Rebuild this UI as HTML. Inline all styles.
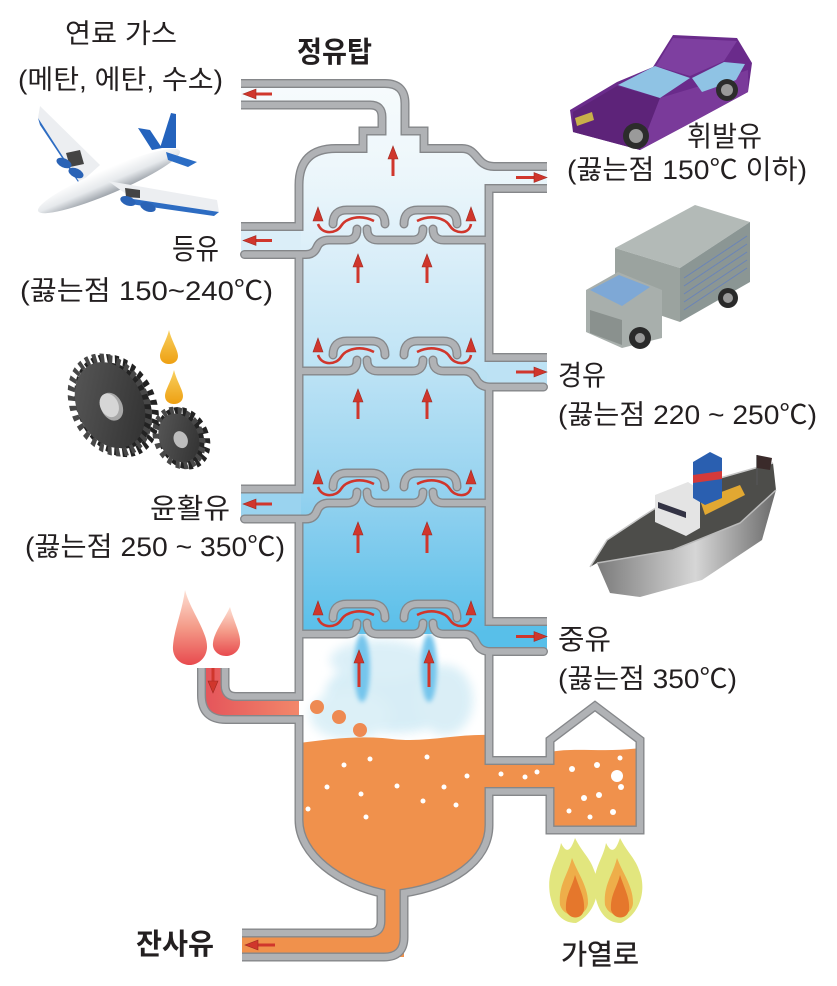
<!DOCTYPE html>
<html><head><meta charset="utf-8"><style>
html,body{margin:0;padding:0;background:#fff;}
svg{display:block;}
text{font-family:"Liberation Sans","Noto Sans CJK KR",sans-serif;fill:#231f20;}
</style></head><body>
<svg width="837" height="986" viewBox="0 0 837 986" xmlns="http://www.w3.org/2000/svg">
<defs>
 <linearGradient id="colg" gradientUnits="userSpaceOnUse" x1="0" y1="80" x2="0" y2="640">
  <stop offset="0" stop-color="#f7fbfd"/><stop offset="0.15" stop-color="#eef7fb"/>
  <stop offset="0.3" stop-color="#dceff9"/><stop offset="0.5" stop-color="#c0e4f5"/>
  <stop offset="0.75" stop-color="#92d1ef"/><stop offset="1" stop-color="#56bee9"/>
 </linearGradient>
 <linearGradient id="feedg" x1="0" y1="0" x2="1" y2="0">
  <stop offset="0" stop-color="#e4535a"/><stop offset="1" stop-color="#f2876a"/>
 </linearGradient>
 <linearGradient id="dropg" x1="0" y1="0" x2="0" y2="1">
  <stop offset="0" stop-color="#fde0d4"/><stop offset="0.5" stop-color="#f49a88"/><stop offset="1" stop-color="#e84a4e"/>
 </linearGradient>
 <linearGradient id="oilg" x1="0" y1="0" x2="0" y2="1">
  <stop offset="0" stop-color="#f8d060"/><stop offset="1" stop-color="#eea012"/>
 </linearGradient>
 <linearGradient id="fus" x1="0" y1="0" x2="0" y2="1">
  <stop offset="0" stop-color="#ffffff"/><stop offset="0.55" stop-color="#e6e9ec"/><stop offset="1" stop-color="#9ea4ab"/>
 </linearGradient>
 <linearGradient id="hullg" x1="0" y1="0" x2="1" y2="0">
  <stop offset="0" stop-color="#7b7b7b"/><stop offset="0.55" stop-color="#d6d6d6"/><stop offset="1" stop-color="#6a6a6a"/>
 </linearGradient>
 <linearGradient id="gearg" x1="0" y1="0" x2="1" y2="1">
  <stop offset="0" stop-color="#5a5a5a"/><stop offset="1" stop-color="#2e2e2e"/>
 </linearGradient>
 <filter id="blur4" x="-50%" y="-50%" width="200%" height="200%"><feGaussianBlur stdDeviation="5"/></filter>
 <filter id="blur2" x="-50%" y="-50%" width="200%" height="200%"><feGaussianBlur stdDeviation="2.5"/></filter>

 <g id="walls" fill="none">
  <path d="M241 83.5 L385 83.5 Q405 83.5 405 103.5 L405 131 L424 131 L424 148.5 L462 148.5 C478 148.5 476 166.5 494 166.5 L547 166.5"/>
  <path d="M241 105 L370 105 Q382 105 382 117 L382 131 L363 131 L363 148.5 L336 148.5 Q299 148.5 299 185 L299 226.5 L241 226.5"/>
  <path d="M547 188.5 L489 188.5 L489 357.5 L547 357.5"/>
  <path d="M299 254.5 L299 489 L241 489"/>
  <path d="M489 387 L489 621.5 L547 621.5"/>
  <path d="M299 519 L299 696.5 L236 696.5 Q225 696.5 225 685 L225 668"/>
  <path d="M489 651.5 L489 760.5 L550 760.5 L550 740 L595 706 L640 740 L640 830 L550 830 L550 791.5 L489 791.5 L489 825 C489 862 450 886 404 893 L404 937 Q404 957 384 957 L242 957"/>
  <path d="M201.5 668 L201.5 695 Q201.5 719.5 226 719.5 L299 719.5 L299 820 C299 855 340 884 381 893 L381 921 Q381 933 369 933 L242 933"/>
 </g>
 <g id="trays" fill="none" stroke-linecap="round">
  <path d="M244.5 254.5 L306 254.5 Q314 254.5 317 247 Q320 240 329 240 L347 240 Q357 240 357 229"/>
  <path d="M367 229 Q367 240 378 240 L412 240 Q423 240 423 229"/>
  <path d="M433 229 Q433 240 444 240 L486 240"/>
  <path d="M333 224 Q333 210 347 210 L371 210 Q385 210 385 224"/>
  <path d="M404 224 Q404 210 418 210 L443 210 Q457 210 457 224"/>

  <path d="M302 371 L347 371 Q357 371 357 360"/>
  <path d="M367 360 Q367 371 378 371 L412 371 Q423 371 423 360"/>
  <path d="M433 360 Q433 371 444 371 L464 371 Q472 371 476 379 Q480 387 490 387 L543.5 387"/>
  <path d="M333 355 Q333 341 347 341 L371 341 Q385 341 385 355"/>
  <path d="M404 355 Q404 341 418 341 L443 341 Q457 341 457 355"/>

  <path d="M244.5 519 L306 519 Q314 519 317 511 Q320 503 329 503 L347 503 Q357 503 357 492"/>
  <path d="M367 492 Q367 503 378 503 L412 503 Q423 503 423 492"/>
  <path d="M433 492 Q433 503 444 503 L486 503"/>
  <path d="M333 487 Q333 473 347 473 L371 473 Q385 473 385 487"/>
  <path d="M404 487 Q404 473 418 473 L443 473 Q457 473 457 487"/>

  <path d="M302 634 L347 634 Q357 634 357 623"/>
  <path d="M367 623 Q367 634 378 634 L412 634 Q423 634 423 623"/>
  <path d="M433 623 Q433 634 444 634 L464 634 Q472 634 476 642.5 Q480 651.5 490 651.5 L543.5 651.5"/>
  <path d="M333 618 Q333 604 347 604 L371 604 Q385 604 385 618"/>
  <path d="M404 618 Q404 604 418 604 L443 604 Q457 604 457 618"/>
 </g>
</defs>

<rect width="837" height="986" fill="#fff"/>

<!-- column interior -->
<path d="M299 634 L299 185 Q299 148.5 336 148.5 L363 148.5 L363 131 L382 131 L382 117 Q382 105 370 105 L241 105 L241 83.5 L385 83.5 Q405 83.5 405 103 L405 131 L424 131 L424 148.5 L462 148.5 C478 148.5 476 166.5 494 166.5 L547 166.5 L547 188.5 L489 188.5 L489 634 Z" fill="url(#colg)"/>
<rect x="241" y="226.5" width="60" height="28" fill="#dbeef8"/>
<rect x="487" y="357.5" width="60" height="29.5" fill="#bde2f4"/>
<rect x="241" y="489" width="60" height="30" fill="#9ad3ef"/>
<rect x="487" y="621.5" width="60" height="30" fill="#58bfe9"/>
<path d="M444 633 L464 634 Q472 634 476 642.5 Q480 651.5 490 651.5 L490 630 Z" fill="#58bfe9"/>

<!-- vapor -->
<g filter="url(#blur4)" opacity="0.9">
 <ellipse cx="395" cy="695" rx="70" ry="38" fill="#d3ecf6"/>
 <ellipse cx="350" cy="715" rx="40" ry="25" fill="#d9eff7"/>
 <ellipse cx="445" cy="700" rx="28" ry="35" fill="#d6edf6"/>
 <ellipse cx="380" cy="660" rx="50" ry="20" fill="#d8eef7"/>
</g>
<g filter="url(#blur2)">
 <ellipse cx="362" cy="668" rx="8" ry="34" fill="#74c5ec"/>
 <ellipse cx="429" cy="668" rx="8" ry="34" fill="#74c5ec"/>
</g>

<!-- orange liquid -->
<path d="M299 743 C330 739 360 735 392 739 C425 743 455 734 489 735 L489 764 L550 764 L550 752 C575 747 605 753 640 748 L640 830 L550 830 L550 788 L489 788 L489 825 C489 862 450 886 404 893 L404 957 L242 957 L242 933 L381 933 L381 893 C340 884 299 855 299 820 Z" fill="#f0914c"/>
<g fill="#fff">
 <circle cx="344" cy="765" r="2.5"/><circle cx="370" cy="759" r="2.5"/><circle cx="427" cy="757" r="2.5"/>
 <circle cx="327" cy="787" r="2.5"/><circle cx="361" cy="794" r="2.5"/><circle cx="397" cy="786" r="2.5"/>
 <circle cx="444" cy="787" r="2.5"/><circle cx="467" cy="776" r="2.5"/><circle cx="423" cy="801" r="2.5"/>
 <circle cx="456" cy="805" r="2.5"/><circle cx="308" cy="809" r="2.5"/><circle cx="366" cy="817" r="2.5"/>
 <circle cx="501" cy="774" r="2.5"/><circle cx="525" cy="777" r="2.5"/><circle cx="537" cy="772" r="2.5"/>
 <circle cx="572" cy="769" r="3"/><circle cx="597" cy="765" r="3"/><circle cx="620" cy="758" r="2.5"/>
 <circle cx="617" cy="776" r="6"/><circle cx="621" cy="787" r="3"/><circle cx="599" cy="795" r="3"/>
 <circle cx="584" cy="798" r="3"/><circle cx="569" cy="811" r="2.5"/><circle cx="590" cy="817" r="2.5"/><circle cx="613" cy="812" r="3"/>
</g>
<g fill="#ee8a52">
 <circle cx="317" cy="707" r="7"/><circle cx="339" cy="717" r="7"/><circle cx="360" cy="730" r="7"/>
</g>

<!-- feed pipe fill -->
<path d="M201.5 668 L225 668 L225 685 Q225 696.5 236 696.5 L299 696.5 L299 719.5 L226 719.5 Q201.5 719.5 201.5 695 Z" fill="url(#feedg)"/>

<!-- walls: outlines first, then light fill -->
<use href="#walls" stroke="#85878a" stroke-width="9"/>
<use href="#trays" stroke="#85878a" stroke-width="9"/>
<use href="#walls" stroke="#b0b2b5" stroke-width="6.3"/>
<use href="#trays" stroke="#b0b2b5" stroke-width="6.3"/>

<!-- red flow arrows on trays -->
<g fill="none" stroke="#d0362c" stroke-width="2.6">
 <path d="M374 221 C360 214 346 218 341 226 C336 234 322 235 318 224"/>
 <path d="M417 221 C431 214 445 218 450 226 C455 234 469 235 471 224"/>
 <path d="M374 352 C360 345 346 349 341 357 C336 365 322 366 318 355"/>
 <path d="M417 352 C431 345 445 349 450 357 C455 365 469 366 471 355"/>
 <path d="M374 484 C360 477 346 481 341 489 C336 497 322 498 318 487"/>
 <path d="M417 484 C431 477 445 481 450 489 C455 497 469 498 471 487"/>
 <path d="M374 615 C360 608 346 612 341 620 C336 628 322 629 318 618"/>
 <path d="M417 615 C431 608 445 612 450 620 C455 628 469 629 471 618"/>
</g>
<g fill="#d0362c" stroke="#9e2a22" stroke-width="0.6">
 <polygon points="318,207 313,221 323,221"/><polygon points="471,207 466,221 476,221"/>
 <polygon points="318,338 313,352 323,352"/><polygon points="471,338 466,352 476,352"/>
 <polygon points="318,470 313,484 323,484"/><polygon points="471,470 466,484 476,484"/>
 <polygon points="318,601 313,615 323,615"/><polygon points="471,601 466,615 476,615"/>
</g>

<!-- vertical arrows -->
<g stroke="#d0362c" stroke-width="3">
 <line x1="393" y1="157" x2="393" y2="176"/>
 <line x1="358" y1="265" x2="358" y2="283"/><line x1="427" y1="265" x2="427" y2="283"/>
 <line x1="358" y1="400" x2="358" y2="419"/><line x1="427" y1="400" x2="427" y2="419"/>
 <line x1="358" y1="533" x2="358" y2="553"/><line x1="427" y1="533" x2="427" y2="553"/>
 <line x1="359" y1="661" x2="359" y2="687"/><line x1="429" y1="661" x2="429" y2="687"/>
 <line x1="213" y1="668" x2="213" y2="683"/>
</g>
<g fill="#d0362c" stroke="#9e2a22" stroke-width="0.6">
 <polygon points="393,146 388,159 398,159"/>
 <polygon points="358,254 353,267 363,267"/><polygon points="427,254 422,267 432,267"/>
 <polygon points="358,389 353,402 363,402"/><polygon points="427,389 422,402 432,402"/>
 <polygon points="358,522 353,535 363,535"/><polygon points="427,522 422,535 432,535"/>
 <polygon points="359,650 354,663 364,663"/><polygon points="429,650 424,663 434,663"/>
 <polygon points="213,693 208,681 218,681"/>
</g>

<!-- horizontal arrows -->
<g stroke="#d0362c" stroke-width="3">
 <line x1="254" y1="94" x2="272" y2="94"/>
 <line x1="254" y1="240.5" x2="272" y2="240.5"/>
 <line x1="254" y1="504" x2="272" y2="504"/>
 <line x1="256" y1="945" x2="275" y2="945"/>
 <line x1="516" y1="177.5" x2="535" y2="177.5"/>
 <line x1="516" y1="372" x2="535" y2="372"/>
 <line x1="516" y1="636.5" x2="535" y2="636.5"/>
</g>
<g fill="#d0362c" stroke="#9e2a22" stroke-width="0.6">
 <polygon points="243,94 256,89 256,99"/>
 <polygon points="243,240.5 256,235.5 256,245.5"/>
 <polygon points="243,504 256,499 256,509"/>
 <polygon points="245,945 258,940 258,950"/>
 <polygon points="547,177.5 534,172.5 534,182.5"/>
 <polygon points="547,372 534,367 534,377"/>
 <polygon points="547,636.5 534,631.5 534,641.5"/>
</g>

<!-- airplane -->
<g>
 <polygon points="138,128 150,130 162,148 152,150" fill="#2463bd"/>
 <polygon points="100,165 40,106 38,118 80,183" fill="#eceef1"/>
 <polygon points="80,183 38,118 40,125 82,188" fill="#2d6cc2"/>
 <polygon points="66,153 80,150 84,164 70,167" fill="#444"/>
 <ellipse cx="64" cy="163" rx="8" ry="4.5" fill="#2a63b6" transform="rotate(25 64 163)"/>
 <ellipse cx="76" cy="173" rx="8" ry="4.5" fill="#2a63b6" transform="rotate(25 76 173)"/>
 <polygon points="160,148 171,113 176,114 176,148" fill="#2463bd"/>
 <ellipse cx="109" cy="181" rx="77" ry="12.5" fill="url(#fus)" transform="rotate(-23 109 181)"/>
 <polygon points="166,152 197,162 188,167 168,160" fill="#2b6dc5"/>
 <polygon points="108,181 217,200 219,212 133,199" fill="#eceef1"/>
 <polygon points="133,199 219,212 214,216 130,204" fill="#2d6cc2"/>
 <polygon points="125,188 140,190 140,198 126,197" fill="#444"/>
 <ellipse cx="128" cy="201" rx="8" ry="4.5" fill="#2a63b6" transform="rotate(20 128 201)"/>
 <ellipse cx="148" cy="207" rx="8" ry="4.5" fill="#2a63b6" transform="rotate(20 148 207)"/>
</g>

<!-- car -->
<g>
 <polygon points="570,110 617,82 653,67 673,35 737,38 752,63 748,92 700,118 640,150 573,132" fill="#6a2b8b"/>
 <polygon points="573,112 617,86 660,98 640,150 573,132" fill="#5d2379"/>
 <polygon points="660,98 700,86 748,70 748,92 700,118 640,150" fill="#7a3a9a"/>
 <polygon points="618,85 655,66 690,78 660,98" fill="#8fc3e4"/>
 <polygon points="692,78 724,62 745,64 736,80 702,92" fill="#8fc3e4"/>
 <polygon points="673,38 737,41 724,61 690,76 656,66" fill="#7e3fa0"/>
 <circle cx="636" cy="136" r="13" fill="#2c2c2c"/><circle cx="636" cy="136" r="7" fill="#9a9a9a"/>
 <circle cx="727" cy="90" r="11" fill="#2c2c2c"/><circle cx="727" cy="90" r="6" fill="#9a9a9a"/>
 <polygon points="575,118 592,112 594,120 577,126" fill="#c8b04a"/>
</g>

<!-- truck -->
<g>
 <polygon points="615,248 695,205 750,222 680,268" fill="#b3bab7"/>
 <polygon points="615,248 680,268 680,322 615,300" fill="#9ba39f"/>
 <polygon points="680,268 750,222 750,282 680,322" fill="#8b9694"/>
 <g stroke="#6a84b8" stroke-width="1">
  <line x1="684" y1="278" x2="747" y2="236"/><line x1="684" y1="286" x2="747" y2="244"/>
  <line x1="684" y1="294" x2="747" y2="252"/><line x1="684" y1="302" x2="747" y2="260"/>
  <line x1="684" y1="310" x2="747" y2="268"/>
 </g>
 <polygon points="586,290 618,272 662,290 662,338 622,348 586,332" fill="#a8afac"/>
 <polygon points="590,290 619,275 650,287 622,306" fill="#7ea8d6"/>
 <polygon points="590,310 622,320 622,345 590,333" fill="#8a918e"/>
 <circle cx="640" cy="338" r="11" fill="#2a2a2a"/><circle cx="640" cy="338" r="5" fill="#999"/>
 <circle cx="728" cy="298" r="10" fill="#2a2a2a"/><circle cx="728" cy="298" r="5" fill="#999"/>
</g>

<!-- oil drops -->
<path d="M169 330 C172 342 178 350 178 356 C178 361 174 364 169 364 C164 364 160 361 160 356 C160 350 166 342 169 330 Z" fill="url(#oilg)"/>
<path d="M174 370 C177 382 183 390 183 396 C183 401 179 404 174 404 C169 404 165 401 165 396 C165 390 171 382 174 370 Z" fill="url(#oilg)"/>

<!-- gears (perspective) -->
<g transform="translate(110 405) rotate(-25) scale(0.82 1.12)">
 <circle cx="7" cy="3" r="40" fill="#222"/>
 <circle cx="7" cy="3" r="44" fill="none" stroke="#222" stroke-width="8" stroke-dasharray="4.6 4.6"/>
 <circle cx="0" cy="0" r="40" fill="url(#gearg)"/>
 <circle cx="0" cy="0" r="44" fill="none" stroke="#474747" stroke-width="8" stroke-dasharray="4.6 4.6"/>
 <circle cx="1" cy="2" r="13" fill="#a8a8a8"/>
 <circle cx="-1" cy="0" r="11" fill="#d6d6d6"/>
</g>
<g transform="translate(179 438) rotate(-25) scale(0.85 1.1)">
 <circle cx="5" cy="2" r="23" fill="#222"/>
 <circle cx="5" cy="2" r="26" fill="none" stroke="#222" stroke-width="7" stroke-dasharray="4.5 4.5"/>
 <circle cx="0" cy="0" r="23" fill="url(#gearg)"/>
 <circle cx="0" cy="0" r="26" fill="none" stroke="#484848" stroke-width="7" stroke-dasharray="4.5 4.5"/>
 <circle cx="1" cy="2" r="8" fill="#bdbdbd"/>
</g>

<!-- ship -->
<g>
 <polygon points="597,563 673,550 740,523 776,490 762,540 702,580 640,597 610,593" fill="url(#hullg)"/>
 <polygon points="590,567 607,540 640,518 673,497 720,478 773,463 776,490 740,523 673,550 597,563" fill="#4d4d4a"/>
 <polyline points="590,567 607,540 640,518 673,497 720,478 773,463" fill="none" stroke="#c8c8c8" stroke-width="1.5"/>
 <polyline points="597,563 673,550 740,523 776,490" fill="none" stroke="#bbb" stroke-width="1.5"/>
 <polygon points="655,495 688,482 700,490 700,528 686,536 655,522" fill="#e4e4e4"/>
 <polygon points="658,502 686,512 686,518 658,508" fill="#334"/>
 <polygon points="700,500 740,485 745,495 705,515" fill="#e2a832"/>
 <polygon points="693,462 710,452 722,458 722,498 705,505 693,498" fill="#2a5fb0"/>
 <polygon points="693,475 722,471 722,479 693,483" fill="#d43a3a"/>
 <line x1="757" y1="455" x2="757" y2="485" stroke="#555" stroke-width="1.5"/>
 <polygon points="757,455 772,458 770,470 757,468" fill="#3a2a2a"/>
</g>

<!-- fire drops -->
<path d="M185 590 C190 610 208 632 207 648 C206 660 196 665 190 665 C180 665 172 657 173 646 C174 630 182 612 185 590 Z" fill="url(#dropg)"/>
<path d="M230 607 C234 622 241 634 240 644 C239 652 232 656 226 656 C218 656 212 650 213 643 C214 632 224 620 230 607 Z" fill="url(#dropg)"/>

<!-- flames -->
<g>
 <path d="M550 895 C546 870 558 860 561 843 C567 855 571 850 575 838 C582 852 590 858 594 870 C601 886 598 912 576 923 C560 923 553 910 550 895 Z" fill="#e2e67e"/>
 <path d="M595 895 C591 870 603 860 606 843 C612 855 616 850 620 838 C627 852 635 858 639 870 C646 886 643 912 621 923 C605 923 598 910 595 895 Z" fill="#e2e67e"/>
 <path d="M560 905 C558 885 568 875 572 858 C578 874 588 886 588 903 C587 918 565 920 560 905 Z" fill="#eeae4a"/>
 <path d="M605 905 C603 885 613 875 617 858 C623 874 633 886 633 903 C632 918 610 920 605 905 Z" fill="#eeae4a"/>
 <path d="M566 910 C565 895 572 888 575 875 C580 890 585 898 584 910 C582 920 569 920 566 910 Z" fill="#e5772c"/>
 <path d="M611 910 C610 895 617 888 620 875 C625 890 630 898 629 910 C627 920 614 920 611 910 Z" fill="#e5772c"/>
</g>

<!-- labels -->
<text x="65" y="43" font-size="27" textLength="112" lengthAdjust="spacingAndGlyphs">연료 가스</text>
<text x="18" y="89" font-size="27" textLength="205" lengthAdjust="spacingAndGlyphs">(메탄, 에탄, 수소)</text>
<text x="297" y="62" font-size="29" font-weight="bold" textLength="75" lengthAdjust="spacingAndGlyphs">정유탑</text>
<text x="172" y="259" font-size="29" textLength="47" lengthAdjust="spacingAndGlyphs">등유</text>
<text x="20" y="300" font-size="27" textLength="253" lengthAdjust="spacingAndGlyphs">(끓는점 150~240℃)</text>
<text x="687" y="146" font-size="28" textLength="75" lengthAdjust="spacingAndGlyphs">휘발유</text>
<text x="567" y="179" font-size="27" textLength="240" lengthAdjust="spacingAndGlyphs">(끓는점 150℃ 이하)</text>
<text x="558" y="385" font-size="28" textLength="48" lengthAdjust="spacingAndGlyphs">경유</text>
<text x="558" y="424" font-size="27" textLength="259" lengthAdjust="spacingAndGlyphs">(끓는점 220 ~ 250℃)</text>
<text x="150" y="518" font-size="28" textLength="80" lengthAdjust="spacingAndGlyphs">윤활유</text>
<text x="25" y="556" font-size="27" textLength="260" lengthAdjust="spacingAndGlyphs">(끓는점 250 ~ 350℃)</text>
<text x="558" y="649" font-size="28" textLength="53" lengthAdjust="spacingAndGlyphs">중유</text>
<text x="558" y="688" font-size="27" textLength="179" lengthAdjust="spacingAndGlyphs">(끓는점 350℃)</text>
<text x="136" y="954" font-size="29" font-weight="bold" textLength="78" lengthAdjust="spacingAndGlyphs">잔사유</text>
<text x="561" y="964" font-size="28" textLength="78" lengthAdjust="spacingAndGlyphs" stroke="#231f20" stroke-width="0.4">가열로</text>
</svg>
</body></html>
